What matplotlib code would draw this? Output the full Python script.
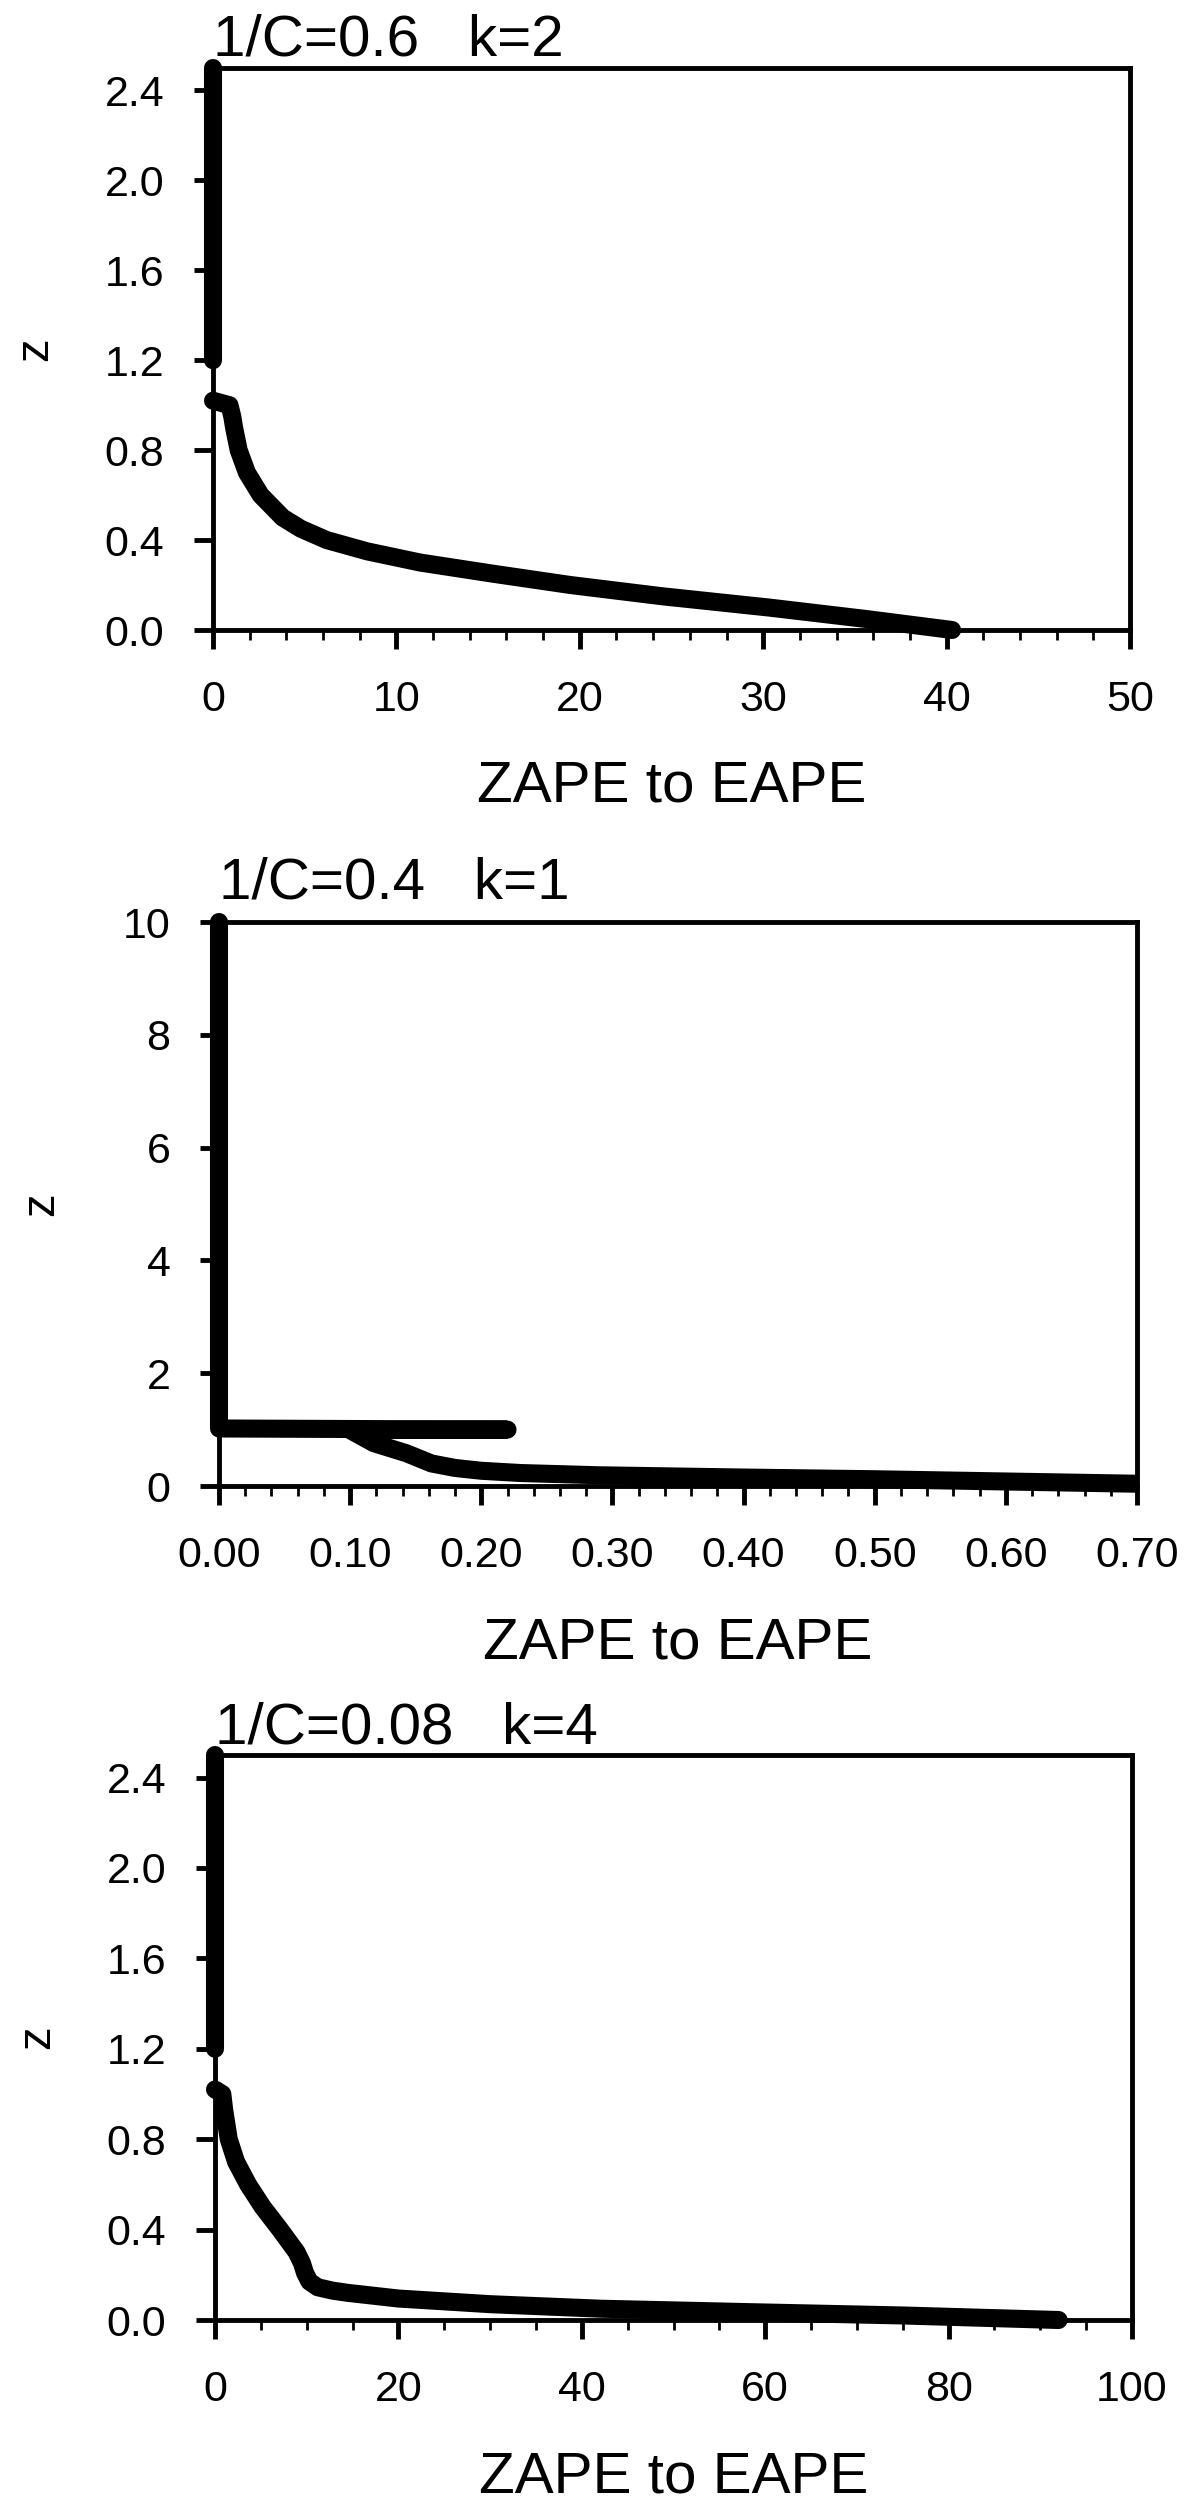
import numpy as np
import matplotlib.pyplot as plt
from matplotlib.ticker import MultipleLocator, FormatStrFormatter
from matplotlib.transforms import Bbox, TransformedBbox

plt.rcParams['font.family'] = ['Liberation Sans', 'DejaVu Sans']

# values (nan = break in the curve)
z1 = [2.5, 1.2, np.nan, 1.02, 1.0, 0.95, 0.9, 0.8, 0.7, 0.6, 0.5, 0.45, 0.4, 0.35, 0.3,
      0.25, 0.2, 0.15, 0.1, 0.05, 0.0]
x1 = [0, 0, np.nan, 0, 0.9, 1.05, 1.15, 1.4, 1.85, 2.6, 3.8, 4.8, 6.2, 8.4, 11.3,
      15.3, 19.5, 24.5, 30.3, 35.5, 40.3]

z2 = [10, 1.02, 1.0, 0.99, 0.76, 0.58, 0.40, 0.32, 0.27, 0.23, 0.19, 0.15, 0.12, 0.08, 0.04]
x2 = [0, 0, 0.22, 0.10, 0.118, 0.143, 0.162, 0.18, 0.2, 0.23, 0.29, 0.4, 0.5, 0.6, 0.7]

z3 = [2.5, 1.2, np.nan, 1.02, 1.0, 0.93, 0.8, 0.7, 0.6, 0.5, 0.4, 0.3, 0.25, 0.21, 0.17,
      0.145, 0.13, 0.12, 0.095, 0.07, 0.05, 0.035, 0.02, 0.0]
x3 = [0, 0, np.nan, 0, 0.8, 1.0, 1.5, 2.3, 3.6, 5.2, 7.1, 8.9, 9.5, 9.8, 10.3,
      11.2, 12.8, 14.5, 20, 30, 42, 58, 75, 92]

titles = ["1/C=0.6   k=2", "1/C=0.4   k=1", "1/C=0.08   k=4"]

W, H = 1200, 2513
fig = plt.figure(figsize=(W / 100, H / 100), dpi=100)

# panel boxes in pixels: left, right, top, bottom
boxes = [(213, 1130, 68, 630), (219, 1137, 922, 1486), (215, 1132, 1755, 2320)]
panels = [
    dict(x=x1, z=z1, xlim=(0, 50), ylim=(0, 2.5), xmaj=10, xmin=2, ymaj=0.4,
         xfmt='%d', yfmt='%.1f', tpad=4.3),
    dict(x=x2, z=z2, xlim=(0, 0.7), ylim=(0, 10), xmaj=0.1, xmin=0.02, ymaj=2,
         xfmt='%.2f', yfmt='%d', tpad=17),
    dict(x=x3, z=z3, xlim=(0, 100), ylim=(0, 2.5), xmaj=20, xmin=5, ymaj=0.4,
         xfmt='%d', yfmt='%.1f', tpad=5),
]

for (l, r, t, b), p, title in zip(boxes, panels, titles):
    ax = fig.add_axes([l / W, 1 - b / H, (r - l) / W, (b - t) / H])
    line, = ax.plot(p['x'], p['z'], color='black', lw=13,
                    solid_capstyle='round', solid_joinstyle='round', zorder=3)
    line.set_clip_box(TransformedBbox(
        Bbox([[p['xlim'][0] - 1e3, -1e3], [p['xlim'][1], 1e3]]), ax.transData))
    ax.set_xlim(p['xlim'])
    ax.set_ylim(p['ylim'])

    ax.xaxis.set_major_locator(MultipleLocator(p['xmaj']))
    ax.xaxis.set_minor_locator(MultipleLocator(p['xmin']))
    ax.yaxis.set_major_locator(MultipleLocator(p['ymaj']))
    ax.xaxis.set_major_formatter(FormatStrFormatter(p['xfmt']))
    ax.yaxis.set_major_formatter(FormatStrFormatter(p['yfmt']))

    for s in ax.spines.values():
        s.set_linewidth(3.5)
    ax.tick_params(which='major', direction='out', length=14, width=3.5,
                   labelsize=31)
    ax.tick_params(axis='x', which='major', pad=22)
    ax.tick_params(axis='y', which='major', pad=21)
    ax.tick_params(axis='x', which='minor', direction='out', length=7, width=2)

    ax.set_title(title, loc='left', fontsize=42, pad=p['tpad'])
    ax.set_xlabel("ZAPE to EAPE", fontsize=42)
    ax.xaxis.set_label_coords(0.5, -0.231)
    ax.set_ylabel("z", fontsize=34)
    ax.yaxis.set_label_coords(-0.17, 0.5)

fig.savefig("out.png", dpi=100)
